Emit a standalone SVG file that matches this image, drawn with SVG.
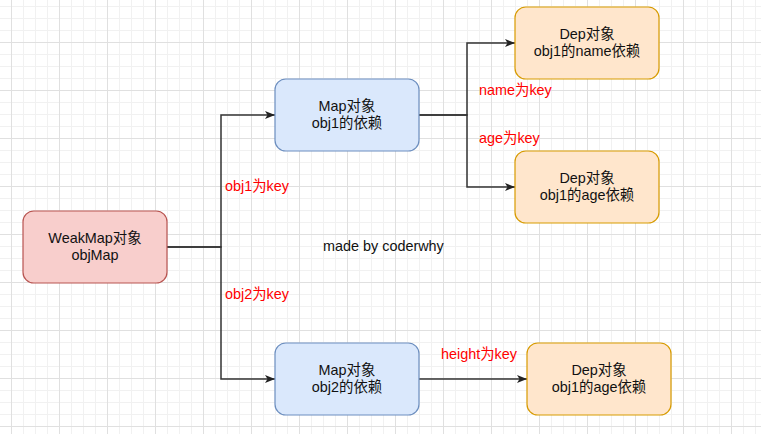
<svg xmlns="http://www.w3.org/2000/svg" width="761" height="434" viewBox="0 0 761 434">
  <defs>
    <pattern id="grid" x="11" y="-6" width="48" height="48" patternUnits="userSpaceOnUse">
      <path d="M12.5,0 V48 M24.5,0 V48 M36.5,0 V48 M0,12.5 H48 M0,24.5 H48 M0,36.5 H48" stroke="#f1f1f1" stroke-width="1" fill="none"/>
      <path d="M0.5,0 V48 M0,0.5 H48" stroke="#e0e0e0" stroke-width="1" fill="none"/>
    </pattern>
    <marker id="arrow" viewBox="0 0 10 8" markerWidth="10" markerHeight="8" refX="10" refY="4" orient="auto" markerUnits="userSpaceOnUse">
      <path d="M0,0 L10,4 L0,8 L2.5,4 Z" fill="#222"/>
    </marker>
  </defs>
  <style>
    .edge { fill: none; stroke: #333; stroke-width: 1.5; }
    .box { stroke-width: 1.2; }
    .red { fill: #b85450; stroke: #b85450; }
    .t { font-family: "Liberation Sans", "Noto Sans CJK SC", sans-serif; font-size: 14.4px; fill: #111; text-anchor: middle; }
    .lbl { font-family: "Liberation Sans", "Noto Sans CJK SC", sans-serif; font-size: 14.4px; fill: #ff0000; }
    .note { font-family: "Liberation Sans", "Noto Sans CJK SC", sans-serif; font-size: 14.4px; fill: #111; }
  </style>
  <rect width="761" height="434" fill="#ffffff"/>
  <rect width="761" height="434" fill="url(#grid)"/>

  <g id="connectors">
    <path class="edge" d="M167,247 H221 V115 H275" marker-end="url(#arrow)"/>
    <path class="edge" d="M167,247 H221 V379 H275" marker-end="url(#arrow)"/>
    <path class="edge" d="M419,115 H467 V43 H515" marker-end="url(#arrow)"/>
    <path class="edge" d="M419,115 H467 V187 H515" marker-end="url(#arrow)"/>
    <path class="edge" d="M419,379 H527" marker-end="url(#arrow)"/>
  </g>

  <g id="weakmap">
    <rect class="box" x="23" y="211" width="144" height="72" rx="10.8" fill="#f8cecc" stroke="#b85450"/>
    <text class="t" x="95" y="242.5">WeakMap对象</text>
    <text class="t" x="95" y="260">objMap</text>
  </g>

  <g id="map1">
    <rect class="box" x="275" y="79" width="144" height="72" rx="10.8" fill="#dae8fc" stroke="#6c8ebf"/>
    <text class="t" x="347" y="110.5">Map对象</text>
    <text class="t" x="347" y="128">obj1的依赖</text>
  </g>

  <g id="map2">
    <rect class="box" x="275" y="343" width="144" height="72" rx="10.8" fill="#dae8fc" stroke="#6c8ebf"/>
    <text class="t" x="347" y="374.5">Map对象</text>
    <text class="t" x="347" y="392">obj2的依赖</text>
  </g>

  <g id="dep1">
    <rect class="box" x="515" y="7" width="144" height="72" rx="10.8" fill="#ffe6cc" stroke="#d79b00"/>
    <text class="t" x="587" y="38.5">Dep对象</text>
    <text class="t" x="587" y="56">obj1的name依赖</text>
  </g>

  <g id="dep2">
    <rect class="box" x="515" y="151" width="144" height="72" rx="10.8" fill="#ffe6cc" stroke="#d79b00"/>
    <text class="t" x="587" y="182.5">Dep对象</text>
    <text class="t" x="587" y="200">obj1的age依赖</text>
  </g>

  <g id="dep3">
    <rect class="box" x="527" y="343" width="144" height="72" rx="10.8" fill="#ffe6cc" stroke="#d79b00"/>
    <text class="t" x="599" y="374.5">Dep对象</text>
    <text class="t" x="599" y="392">obj1的age依赖</text>
  </g>

  <g id="labels">
    <text class="lbl" x="225" y="191">obj1为key</text>
    <text class="lbl" x="225" y="299">obj2为key</text>
    <text class="lbl" x="479" y="95">name为key</text>
    <text class="lbl" x="479" y="143">age为key</text>
    <text class="lbl" x="441" y="359">height为key</text>
    <text class="note" x="323" y="251">made by coderwhy</text>
  </g>
</svg>
